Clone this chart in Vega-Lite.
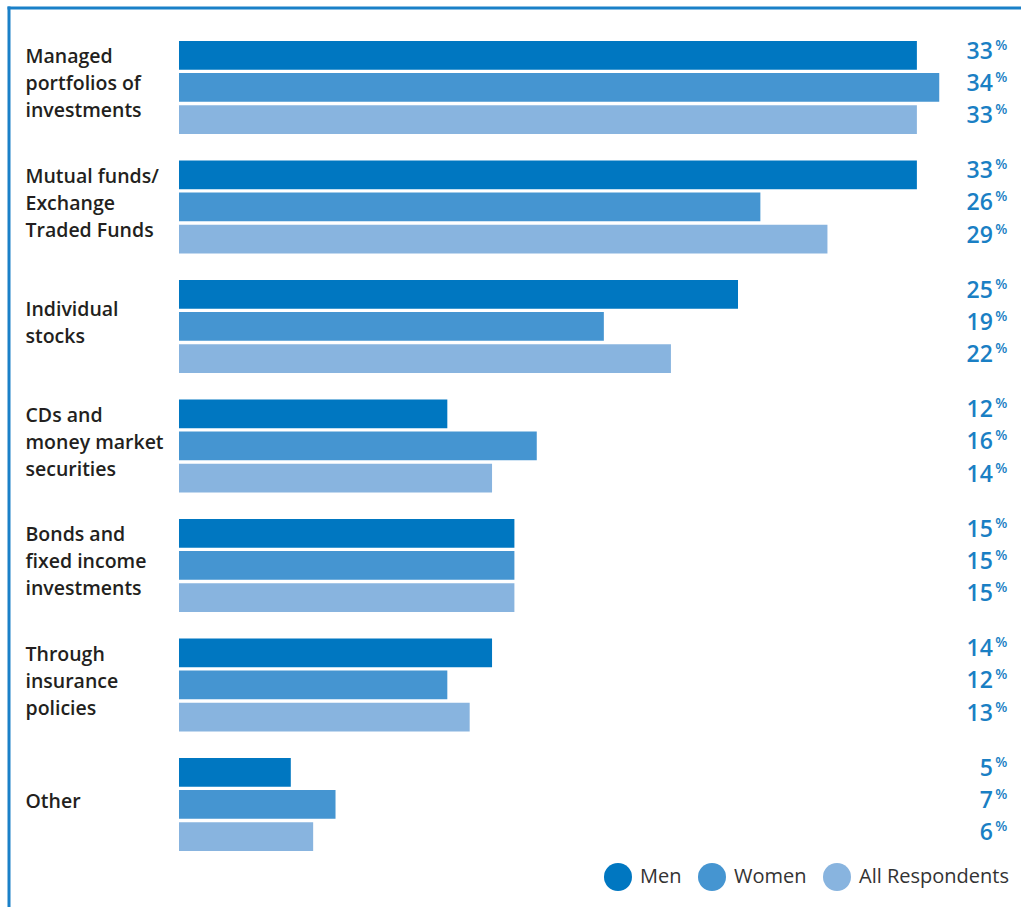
{
  "$schema": "https://vega.github.io/schema/vega-lite/v6.json",
  "width": 1012.5,
  "height": 899.5,
  "autosize": "none",
  "padding": {"left": 8.5, "top": 7.5, "right": 0, "bottom": 0},
  "background": "white",
  "config": {"view": {"stroke": null}, "font": "Open Sans"},
  "data": {
    "values": [
      {"category": "Managed|portfolios of|investments", "group": "Men", "value": 33},
      {"category": "Managed|portfolios of|investments", "group": "Women", "value": 34},
      {"category": "Managed|portfolios of|investments", "group": "All Respondents", "value": 33},
      {"category": "Mutual funds/|Exchange|Traded Funds", "group": "Men", "value": 33},
      {"category": "Mutual funds/|Exchange|Traded Funds", "group": "Women", "value": 26},
      {"category": "Mutual funds/|Exchange|Traded Funds", "group": "All Respondents", "value": 29},
      {"category": "Individual|stocks", "group": "Men", "value": 25},
      {"category": "Individual|stocks", "group": "Women", "value": 19},
      {"category": "Individual|stocks", "group": "All Respondents", "value": 22},
      {"category": "CDs and|money market|securities", "group": "Men", "value": 12},
      {"category": "CDs and|money market|securities", "group": "Women", "value": 16},
      {"category": "CDs and|money market|securities", "group": "All Respondents", "value": 14},
      {"category": "Bonds and|fixed income|investments", "group": "Men", "value": 15},
      {"category": "Bonds and|fixed income|investments", "group": "Women", "value": 15},
      {"category": "Bonds and|fixed income|investments", "group": "All Respondents", "value": 15},
      {"category": "Through|insurance|policies", "group": "Men", "value": 14},
      {"category": "Through|insurance|policies", "group": "Women", "value": 12},
      {"category": "Through|insurance|policies", "group": "All Respondents", "value": 13},
      {"category": "Other", "group": "Men", "value": 5},
      {"category": "Other", "group": "Women", "value": 7},
      {"category": "Other", "group": "All Respondents", "value": 6}
    ]
  },
  "encoding": {
    "y": {
      "field": "category",
      "type": "nominal",
      "sort": null,
      "scale": {"paddingInner": 0.2218, "paddingOuter": 0.3745, "align": 0.374},
      "axis": {
        "title": null,
        "orient": "left",
        "domain": true,
        "domainColor": "#1a80c8",
        "domainWidth": 3,
        "domainCap": "square",
        "ticks": false,
        "tickSize": 0,
        "grid": false,
        "labelPadding": -16.5,
        "labelAlign": "left",
        "labelBaseline": "middle",
        "labelOffset": {
          "condition": [
            {"test": "length(split(datum.value, '|')) == 3", "value": -30},
            {"test": "length(split(datum.value, '|')) == 2", "value": -16.5}
          ],
          "value": -2
        },
        "labelFont": "Open Sans",
        "labelFontSize": 19.5,
        "labelFontWeight": 600,
        "labelColor": "#231f20",
        "labelLineHeight": 27,
        "labelLimit": 0,
        "labelExpr": "split(datum.label, '|')"
      }
    },
    "yOffset": {
      "field": "group",
      "type": "nominal",
      "sort": ["Men", "Women", "All Respondents"],
      "scale": {"paddingInner": 0.103, "paddingOuter": 0}
    }
  },
  "layer": [
    {
      "mark": {"type": "bar"},
      "encoding": {
        "x": {
          "field": "value",
          "type": "quantitative",
          "scale": {"domain": [-7.625, 37.656], "nice": false, "zero": false},
          "axis": {"title": null, "orient": "top", "domain": true, "domainColor": "#1a80c8", "domainWidth": 3, "domainCap": "square", "ticks": false, "labels": false, "grid": false}
        },
        "color": {
          "field": "group",
          "type": "nominal",
          "sort": ["Men", "Women", "All Respondents"],
          "scale": {"domain": ["Men", "Women", "All Respondents"], "range": ["#0077c1", "#4595d1", "#88b4df"]},
          "legend": {
            "title": null,
            "orient": "none",
            "legendX": 595.5,
            "legendY": 855.5,
            "direction": "horizontal",
            "symbolType": "circle",
            "symbolSize": 784,
            "symbolStrokeWidth": 0,
            "labelFont": "Open Sans",
            "labelFontSize": 20,
            "labelColor": "#333333",
            "labelOffset": 8,
            "columnPadding": 16,
            "padding": 0,
            "labelLimit": 0
          }
        }
      }
    },
    {
      "mark": {"type": "text", "align": "right", "baseline": "alphabetic", "dy": 3.5, "fontSize": 23, "fontWeight": 600, "color": "#1a7fc4", "font": "Open Sans"},
      "encoding": {
        "x": {"datum": 36.4, "type": "quantitative"},
        "text": {"field": "value", "type": "quantitative"}
      }
    },
    {
      "mark": {"type": "text", "align": "left", "baseline": "alphabetic", "dy": -5.5, "fontSize": 14, "fontWeight": 600, "color": "#1a7fc4", "font": "Open Sans"},
      "encoding": {
        "x": {"datum": 36.5, "type": "quantitative"},
        "text": {"value": "%"}
      }
    }
  ]
}
